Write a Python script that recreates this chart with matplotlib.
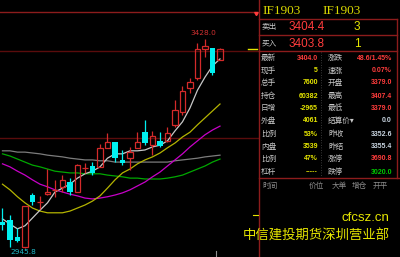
"""
IF1903 daily K-line with moving averages and a quote panel on the right.
"""

import matplotlib.pyplot as plt
from matplotlib.lines import Line2D
import numpy as np

# K-line data (daily)
opens = [3006, 3010, 2971, 2948, 3068, 3052, 3070, 3079, 3086, 3098,
         3075, 3130, 3135, 3133, 3176, 3190, 3149, 3153, 3176, 3213,
         3183, 3193, 3193, 3230, 3260, 3315, 3338, 3405, 3407, 3379]
highs = [3038, 3022, 2992, 3043, 3073, 3066, 3128, 3103, 3114, 3107,
         3140, 3142, 3144, 3186, 3211, 3190, 3172, 3179, 3213, 3241,
         3216, 3213, 3225, 3287, 3320, 3338, 3419, 3428, 3407, 3407.4]
lows = [2987, 2948, 2960, 2945.8, 3045, 3036, 3068, 3064, 3075, 3068,
        3075, 3119, 3114, 3133, 3176, 3144, 3137, 3126, 3176, 3183,
        3160, 3179, 3190, 3225, 3253, 3303, 3333, 3387, 3345, 3379]
closes = [2999, 2964, 2962, 3043, 3052, 3053, 3075, 3080, 3103, 3075,
          3137, 3131, 3119, 3176, 3190, 3153, 3142, 3167, 3190, 3188,
          3204, 3181, 3211, 3264, 3308, 3329, 3405, 3412, 3350, 3404]

# moving averages
ma5 = [3013, 3001, 2990, 2997, 3015, 3033, 3050, 3075, 3084, 3093,
       3107, 3117, 3123, 3133, 3153, 3163, 3163, 3170, 3170, 3172,
       3179, 3183, 3193, 3216, 3237, 3269, 3310, 3340, 3366, 3382]
ma10 = [3093, 3080, 3064, 3050, 3038, 3031, 3027, 3027, 3027, 3031,
        3038, 3045, 3054, 3066, 3084, 3103, 3119, 3128, 3140, 3149,
        3156, 3165, 3177, 3188, 3202, 3213, 3230, 3246, 3262, 3278]
ma20 = [3140, 3133, 3123, 3114, 3103, 3093, 3087, 3080, 3075, 3070,
        3066, 3061, 3059, 3061, 3064, 3068, 3073, 3080, 3089, 3098,
        3110, 3121, 3135, 3149, 3163, 3179, 3193, 3207, 3218, 3227]
ma40 = [3163, 3158, 3151, 3144, 3137, 3133, 3128, 3123, 3121, 3119,
        3119, 3117, 3117, 3117, 3114, 3112, 3110, 3107, 3107, 3105,
        3105, 3105, 3107, 3110, 3114, 3121, 3128, 3135, 3144, 3151]
ma60 = [3170, 3170, 3167, 3167, 3165, 3163, 3160, 3158, 3156, 3153,
        3151, 3149, 3149, 3147, 3147, 3144, 3144, 3144, 3144, 3144,
        3144, 3144, 3144, 3147, 3149, 3151, 3153, 3156, 3158, 3160]

grid_prices = [3400, 3200]

# quote panel
contract = 'IF1903'
sell_price, sell_vol = '3404.4', '3'
buy_price, buy_vol = '3403.8', '1'
left_labels = ['最新', '现手', '总手', '持仓', '日增', '外盘', '比例', '内盘', '比例', '杠杆']
left_values = ['3404.0', '5', '7600', '60382', '-2965', '4061', '53%', '3539', '47%', '-----']
right_labels = ['涨跌', '速涨', '开盘', '最高', '最低', '结算价▾', '昨收', '昨结', '涨停', '跌停']
right_values = ['48.6/1.45%', '0.07%', '3379.0', '3407.4', '3379.0', '0.0',
                '3352.6', '3355.4', '3690.8', '3020.0']
header = ['时间', '价位', '大单', '增仓', '开平']

colors = {
    'up': '#d42a2a',
    'down': '#00f0f0',
    'ma5': '#c8c8c8',
    'ma10': '#b4b400',
    'ma20': '#c800c8',
    'ma40': '#00a800',
    'ma60': '#7c7c7c',
    'grid': '#5a0c0c',
    'frame': '#8c1c1c',
    'label': '#c8c8c8',
    'red': '#ff3c3c',
    'yellow': '#e6e600',
    'pale': '#c8d4e0',
    'green': '#00c800',
}

CJK = ['Noto Sans CJK SC', 'DejaVu Sans']
W, H = 400, 257

fig = plt.figure(figsize=(4, 2.57), dpi=100, facecolor='black')

# chart area takes the left 259 px
ax = fig.add_axes([0, 0, 259 / W, 1])
ax.set_facecolor('black')
ax.set_xlim(-0.33, 34.2)
ax.set_ylim(2925, 3518)
ax.axis('off')

x = np.arange(len(closes))

for p in grid_prices:
    ax.axhline(p, color=colors['grid'], lw=1, zorder=0)

# moving averages
for ma, key in [(ma60, 'ma60'), (ma40, 'ma40'), (ma20, 'ma20'), (ma10, 'ma10'), (ma5, 'ma5')]:
    ax.plot(x, ma, color=colors[key], lw=0.9, zorder=2)

# candles
for i in range(len(closes)):
    o, h, l, c = opens[i], highs[i], lows[i], closes[i]
    top, bot = max(o, c), min(o, c)
    if c >= o:
        ax.vlines(i, top, h, color=colors['up'], lw=0.9, zorder=3)
        ax.vlines(i, l, bot, color=colors['up'], lw=0.9, zorder=3)
        ax.bar(i, max(top - bot, 0.4), bottom=bot, width=0.72, fill=False,
               edgecolor=colors['up'], lw=0.9, zorder=3)
    else:
        ax.vlines(i, l, h, color=colors['down'], lw=0.9, zorder=3)
        ax.bar(i, top - bot, bottom=bot, width=0.78, color=colors['down'],
               lw=0, zorder=3)

# high / low labels
ih = int(np.argmax(highs))
il = int(np.argmin(lows))
ax.annotate(f'{highs[ih]:.1f}', (ih, highs[ih]), xytext=(-1, 2), textcoords='offset points',
            ha='center', va='bottom', fontsize=5.3, color='#d03030')
ax.annotate(f'{lows[il]:.1f}', (il, lows[il]), xytext=(-1, -1), textcoords='offset points',
            ha='center', va='top', fontsize=5.3, color='#20b8c8')

# last price marker on the right edge
ax.plot([248 / 259, 257 / 259], [closes[-1], closes[-1]], color=colors['yellow'],
        lw=1, transform=ax.get_yaxis_transform())


def px_line(x0, y0, x1, y1, color, lw=1, ls='-'):
    fig.add_artist(Line2D([x0 / W, x1 / W], [1 - y0 / H, 1 - y1 / H],
                          color=color, lw=lw, ls=ls))


def px_text(x0, y0, s, color, size, ha='left', family=CJK, **kw):
    fig.text(x0 / W, 1 - y0 / H, s, color=color, fontsize=size, ha=ha,
             va='center', family=family, **kw)


# frame lines
px_line(0, 11.5, 254, 11.5, colors['frame'])
fig.add_artist(Line2D([256 / W], [1 - 13 / H], marker=(3, 0, 180), ms=3,
                      color=colors['red'], lw=0))
px_line(259, 0, 259, H, colors['frame'])
px_line(259, 19, 397, 19, colors['frame'])
px_line(259, 35, 397, 35, colors['frame'])
px_line(259, 50.5, 397, 50.5, colors['frame'])
px_line(397, 19, 397, 178, colors['frame'])
px_line(259, 178, 400, 178, colors['frame'])
px_line(321, 52, 321, 177, '#4a4a4a', lw=0.6, ls=(0, (1, 2)))
px_line(216, 251, 216, 257, '#909090', lw=0.8)
px_line(253, 215, 258, 215, colors['yellow'], lw=0.8)

# contract header
px_text(262, 11, contract, '#d8d800', 9.5, family=['Liberation Serif'])
px_text(322, 11, contract, '#d8d800', 9.5, family=['Liberation Serif'])

# bid / ask
px_text(262, 27, '卖出', colors['label'], 5.5)
px_text(289, 27.5, sell_price, colors['red'], 8.5, family=['Liberation Sans'])
px_text(357, 27.5, sell_vol, colors['yellow'], 8.5, ha='center', family=['Liberation Sans'])
px_text(262, 43, '买入', colors['label'], 5.5)
px_text(289, 43.5, buy_price, colors['red'], 8.5, family=['Liberation Sans'])
px_text(357, 43.5, buy_vol, colors['yellow'], 8.5, ha='center', family=['Liberation Sans'])

# quote rows
row_y = [58, 71, 83, 96, 108, 121, 134, 147, 159, 172]
left_colors = [colors['red']] + [colors['yellow']] * 9
right_colors = [colors['red']] * 5 + [colors['pale']] * 3 + [colors['red'], colors['green']]
for k, y in enumerate(row_y):
    px_text(261, y, left_labels[k], colors['label'], 5.5)
    px_text(318, y, left_values[k], left_colors[k], 5.0, ha='right',
            family=['Liberation Sans'], fontweight='bold')
    px_text(328, y, right_labels[k], colors['label'], 5.5)
    px_text(392, y, right_values[k], right_colors[k], 5.0, ha='right',
            family=['Liberation Sans'], fontweight='bold')

# tick table header
for label, hx in zip(header, [262, 309, 332, 352, 373]):
    px_text(hx, 186, label, '#8c8c8c', 5.5)

# watermark
px_text(342, 218, 'cfcsz.cn', colors['yellow'], 9.5, family=['Liberation Sans'])
px_text(243, 236, '中信建投期货深圳营业部', colors['yellow'], 9.6)

plt.savefig('out.png', dpi=100, facecolor='black')
